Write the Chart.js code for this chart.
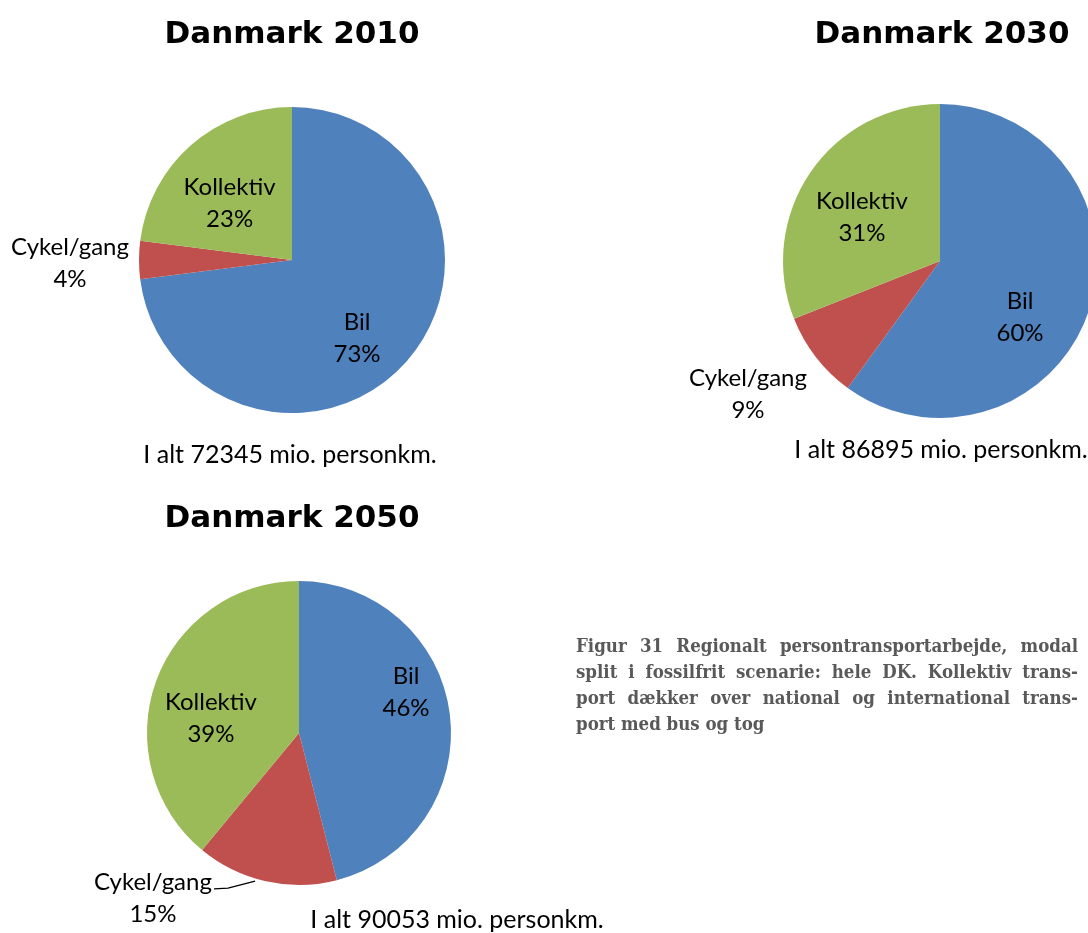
<!DOCTYPE html>
<html>
<head>
<meta charset="utf-8">
<script src="https://cdn.jsdelivr.net/npm/chart.js@4/dist/chart.umd.min.js"></script>
<style>
html,body{margin:0;padding:0;width:1088px;height:933px;overflow:hidden;background:#fff;}
canvas.cv{position:absolute;left:0;top:0;}
.title{position:absolute;font-family:"DejaVu Sans",Verdana,sans-serif;font-weight:bold;font-size:31px;line-height:31px;color:#000;white-space:nowrap;transform:translateX(-50%);}
.sub{position:absolute;font-family:Lato,"Open Sans",sans-serif;font-size:25px;line-height:25px;color:#000;white-space:nowrap;transform:translateX(-50%);}
.caption{position:absolute;left:576px;top:633px;width:502px;font-family:"DejaVu Serif Condensed","DejaVu Serif",serif;font-stretch:condensed;font-weight:bold;font-size:18.5px;line-height:26px;color:#595959;}
.caption div{text-align:justify;text-align-last:justify;white-space:nowrap;}
.caption div.last{text-align:left;text-align-last:left;}
</style>
</head>
<body>
<canvas id="c2010" class="cv" width="1200" height="933"></canvas>
<canvas id="c2030" class="cv" width="1200" height="933"></canvas>
<canvas id="c2050" class="cv" width="1200" height="933"></canvas>

<div class="title" style="left:292px;top:17px;">Danmark 2010</div>
<div class="title" style="left:942px;top:17px;">Danmark 2030</div>
<div class="title" style="left:292px;top:501px;">Danmark 2050</div>

<div class="sub" style="left:290px;top:441px;">I alt 72345 mio. personkm.</div>
<div class="sub" style="left:941px;top:436px;">I alt 86895 mio. personkm.</div>
<div class="sub" style="left:457px;top:906px;">I alt 90053 mio. personkm.</div>

<div class="caption">
  <div>Figur 31 Regionalt persontransportarbejde, modal</div>
  <div>split i fossilfrit scenarie: hele DK. Kollektiv trans-</div>
  <div>port dækker over national og international trans-</div>
  <div class="last">port med bus og tog</div>
</div>

<script>
// ---- data ----
const categories = ["Bil", "Cykel/gang", "Kollektiv"];
const values2010 = [73, 4, 23];
const values2030 = [60, 9, 31];
const values2050 = [46, 15, 39];

// ---- styling / layout (not data) ----
const colors = ["#4F81BD", "#C0504D", "#9BBB59"];
const LABEL_FONT = '24px Lato, "Open Sans", sans-serif';
const LINE_GAP = 32;

const pies = [
  { id: "c2010", values: values2010, cx: 292, cy: 260, r: 153,
    labelPos: [[0.425, 0.458], [-1.451, -0.033], [-0.408, -0.425]], leader: null },
  { id: "c2030", values: values2030, cx: 940, cy: 261, r: 157,
    labelPos: [[0.510, 0.306], [-1.223, 0.796], [-0.497, -0.331]], leader: null },
  { id: "c2050", values: values2050, cx: 299, cy: 733, r: 152,
    labelPos: [[0.704, -0.322], [-0.961, 1.033], [-0.579, -0.151]],
    leader: { index: 1, pts: [[-0.559, 1.026], [-0.467, 1.020], [-0.289, 0.974]] } }
];

const labelPlugin = {
  id: "pieLabels",
  afterDatasetsDraw(chart, args, opts) {
    const ctx = chart.ctx;
    const meta = chart.getDatasetMeta(0);
    const ds = chart.data.datasets[0];
    ctx.save();
    ctx.font = LABEL_FONT;
    ctx.fillStyle = "#000";
    ctx.textAlign = "center";
    ctx.textBaseline = "alphabetic";
    meta.data.forEach((arc, i) => {
      const R = arc.outerRadius;
      const p = opts.labelPos[i];
      const x = arc.x + p[0] * R;
      const y = arc.y + p[1] * R;
      ctx.fillText(chart.data.labels[i], x, y);
      ctx.fillText(ds.data[i] + "%", x, y + LINE_GAP);
    });
    if (opts.leader) {
      const arc = meta.data[opts.leader.index];
      const R = arc.outerRadius;
      ctx.strokeStyle = "#000";
      ctx.lineWidth = 1.3;
      ctx.beginPath();
      opts.leader.pts.forEach((q, k) => {
        const x = arc.x + q[0] * R, y = arc.y + q[1] * R;
        if (k === 0) ctx.moveTo(x, y); else ctx.lineTo(x, y);
      });
      ctx.stroke();
    }
    ctx.restore();
  }
};

pies.forEach(p => {
  const el = document.getElementById(p.id);
  const W = el.width, H = el.height;
  new Chart(el, {
    type: "pie",
    data: {
      labels: categories,
      datasets: [{ data: p.values, backgroundColor: colors, borderWidth: 0, borderColor: "#fff" }]
    },
    options: {
      responsive: false,
      animation: false,
      devicePixelRatio: 1,
      layout: { padding: { left: p.cx - p.r, top: p.cy - p.r, right: W - (p.cx + p.r), bottom: H - (p.cy + p.r) } },
      plugins: {
        legend: { display: false },
        tooltip: { enabled: false },
        title: { display: false },
        pieLabels: { labelPos: p.labelPos, leader: p.leader }
      }
    },
    plugins: [labelPlugin]
  });
});
</script>
</body>
</html>
